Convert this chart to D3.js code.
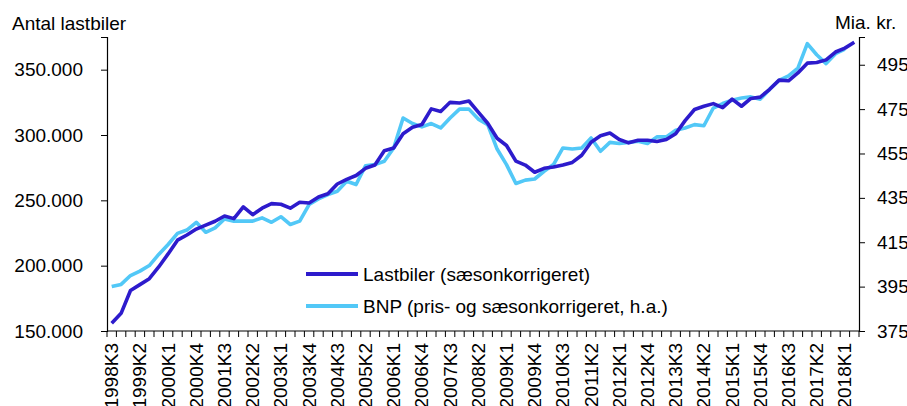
<!DOCTYPE html>
<html>
<head>
<meta charset="utf-8">
<script src="https://cdn.jsdelivr.net/npm/d3@7"></script>
<style>
  body { margin: 0; background: #fff; }
  svg { display: block; font-family: "Liberation Sans", Arial, sans-serif; }
</style>
</head>
<body>
<svg id="chart" width="907" height="406"></svg>
<script>
// quarters 1998K3 .. 2018K2
const quarters = [
  "1998K3","1998K4",
  "1999K1","1999K2","1999K3","1999K4",
  "2000K1","2000K2","2000K3","2000K4",
  "2001K1","2001K2","2001K3","2001K4",
  "2002K1","2002K2","2002K3","2002K4",
  "2003K1","2003K2","2003K3","2003K4",
  "2004K1","2004K2","2004K3","2004K4",
  "2005K1","2005K2","2005K3","2005K4",
  "2006K1","2006K2","2006K3","2006K4",
  "2007K1","2007K2","2007K3","2007K4",
  "2008K1","2008K2","2008K3","2008K4",
  "2009K1","2009K2","2009K3","2009K4",
  "2010K1","2010K2","2010K3","2010K4",
  "2011K1","2011K2","2011K3","2011K4",
  "2012K1","2012K2","2012K3","2012K4",
  "2013K1","2013K2","2013K3","2013K4",
  "2014K1","2014K2","2014K3","2014K4",
  "2015K1","2015K2","2015K3","2015K4",
  "2016K1","2016K2","2016K3","2016K4",
  "2017K1","2017K2","2017K3","2017K4",
  "2018K1","2018K2"
];

// Lastbiler (saesonkorrigeret), antal
const lastbiler = [
  156000, 163500, 181000, 185500, 190000, 199000, 209000, 219500, 223500, 228000,
  231000, 234000, 238000, 236000, 245000, 239000, 244000, 247500, 247000, 244000,
  248500, 248000, 252500, 255000, 262500, 266000, 269000, 274500, 277000, 288000,
  290000, 301000, 306000, 308000, 320000, 318000, 325000, 324500, 326000, 317500,
  309000, 297500, 292000, 280000, 277000, 271500, 274500, 275500, 277000, 279000,
  284500, 294500, 299500, 301500, 296500, 294000, 296000, 296000, 295000, 296500,
  301000, 311000, 319500, 322000, 324000, 321000, 327500, 322000, 328000, 329000,
  335000, 342000, 341500, 347500, 355000, 355500, 357500, 363500, 366500, 371000
];

// BNP (pris- og saesonkorrigeret), mia. kr., ends 2018K1
const bnp = [
  395, 396, 400, 402, 404.5, 409.5, 414, 419, 420.5, 424,
  419.5, 421.5, 425.5, 424.5, 424.5, 424.5, 426, 424, 426.5, 423,
  424.5, 432, 434.5, 436.5, 438, 442.5, 441, 449.5, 450, 451.5,
  457.5, 471, 468.5, 467, 468.5, 466.5, 471, 475, 475, 470.5,
  468, 457, 450, 441.5, 443, 443.5, 447, 450, 457.5, 457,
  457.5, 462, 456, 460, 459.5, 460, 460.5, 459.5, 462.5, 462.5,
  465.5, 466.5, 468, 467.5, 475.5, 477.5, 479, 480, 480.5, 479.5,
  484, 488, 490, 493.5, 504.5, 499.5, 495.5, 500, 502
];

const leftTicks = [150000, 200000, 250000, 300000, 350000];
const rightTicks = [375, 395, 415, 435, 455, 475, 495];
const legendLabels = ["Lastbiler (sæsonkorrigeret)", "BNP (pris- og sæsonkorrigeret, h.a.)"];
const colors = ["#2d1bcc", "#52c8f7"];

const svg = d3.select("#chart");
const plotL = 107, plotR = 859, plotT = 37, plotB = 331;
const fontSize = "19px";

const x = d3.scaleBand().domain(quarters).range([plotL, plotR]).padding(0);
const yL = d3.scaleLinear().domain([150000, 375000]).range([plotB, plotT]);
const yR = d3.scaleLinear().domain([375, 507.5]).range([plotB, plotT]);

const da = d3.formatLocale({ decimal: ",", thousands: ".", grouping: [3], currency: ["", ""] });
const fmt = da.format(",");

// left axis
const gL = svg.append("g")
  .attr("transform", "translate(" + plotL + ",0)")
  .call(d3.axisLeft(yL).tickValues(leftTicks).tickFormat(fmt).tickSizeOuter(0).tickSize(6).tickPadding(18));

// right axis
const gR = svg.append("g")
  .attr("transform", "translate(" + plotR + ",0)")
  .call(d3.axisRight(yR).tickValues(rightTicks).tickSizeOuter(0).tickSize(6).tickPadding(12));

[gL, gR].forEach(g => {
  g.select(".domain").attr("stroke", "#000").attr("stroke-width", 1.2);
  g.selectAll(".tick line").attr("stroke", "#000");
  g.selectAll(".tick text").attr("font-size", fontSize).attr("fill", "#000")
    .attr("font-family", "Liberation Sans, Arial, sans-serif");
});

// x axis: ticks at band edges, labels every third quarter
const gX = svg.append("g").attr("transform", "translate(0," + plotB + ")");
gX.append("line").attr("x1", plotL).attr("x2", plotR).attr("stroke", "#000").attr("stroke-width", 1.2);
gX.selectAll("line.tk")
  .data(quarters.concat(["end"]))
  .enter().append("line")
  .attr("class", "tk")
  .attr("x1", (d, i) => plotL + i * x.bandwidth())
  .attr("x2", (d, i) => plotL + i * x.bandwidth())
  .attr("y1", 0).attr("y2", 6)
  .attr("stroke", "#000");
gX.selectAll("text")
  .data(quarters.filter((d, i) => i % 3 === 0))
  .enter().append("text")
  .attr("transform", d => "translate(" + (x(d) + x.bandwidth() / 2 + 6.5) + ",12) rotate(-90)")
  .attr("text-anchor", "end")
  .attr("font-size", fontSize)
  .text(d => d);

// lines
const lineL = d3.line().x((d, i) => x(quarters[i]) + x.bandwidth() / 2).y(d => yL(d));
const lineR = d3.line().x((d, i) => x(quarters[i]) + x.bandwidth() / 2).y(d => yR(d));

svg.append("path").datum(bnp)
  .attr("d", lineR).attr("fill", "none")
  .attr("stroke", colors[1]).attr("stroke-width", 3.6).attr("stroke-linejoin", "round");
svg.append("path").datum(lastbiler)
  .attr("d", lineL).attr("fill", "none")
  .attr("stroke", colors[0]).attr("stroke-width", 3.6).attr("stroke-linejoin", "round");

// axis titles
svg.append("text").attr("x", 12).attr("y", 30).attr("font-size", fontSize).text("Antal lastbiler");
svg.append("text").attr("x", 835).attr("y", 29).attr("font-size", fontSize).text("Mia. kr.");

// legend
const lg = svg.append("g");
legendLabels.forEach((t, i) => {
  const yy = 274 + i * 32;
  lg.append("line").attr("x1", 306).attr("x2", 358).attr("y1", yy).attr("y2", yy)
    .attr("stroke", colors[i]).attr("stroke-width", 4);
  lg.append("text").attr("x", 363).attr("y", yy + 7).attr("font-size", fontSize).text(t);
});
</script>
</body>
</html>
